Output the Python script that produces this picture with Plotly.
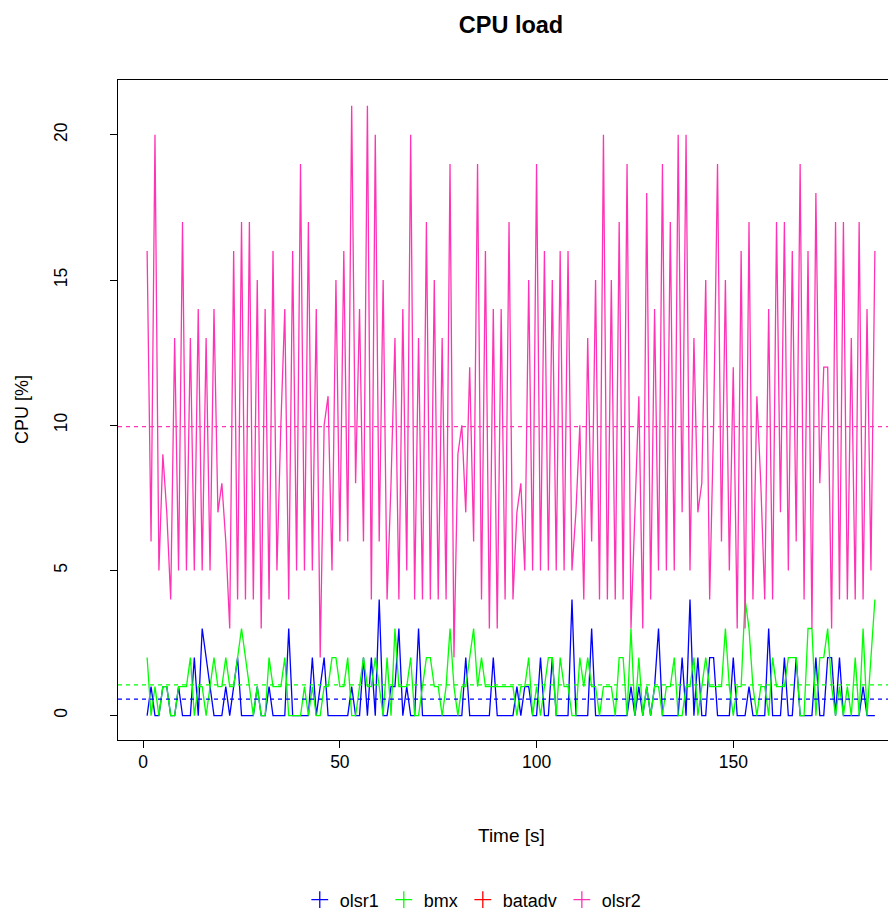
import plotly.graph_objects as go

# ---- data ----
time_s = list(range(1, 187))

olsr2 = [16, 6, 20, 5, 9, 7, 4, 13, 5, 17,
         5, 13, 5, 14, 5, 13, 5, 14, 7, 8,
         6, 3, 16, 4, 17, 4, 17, 4, 15, 3,
         14, 4, 16, 5, 10, 14, 4, 16, 5, 19,
         5, 17, 5, 14, 2, 10, 11, 5, 15, 6,
         16, 6, 21, 8, 14, 6, 21, 4, 20, 6,
         15, 4, 8, 13, 4, 14, 5, 20, 4, 13,
         4, 17, 4, 15, 4, 13, 4, 19, 2, 9,
         10, 7, 12, 6, 19, 4, 16, 3, 14, 3,
         14, 4, 17, 4, 7, 8, 5, 15, 5, 19,
         5, 16, 5, 15, 5, 16, 5, 16, 5, 7,
         10, 4, 13, 6, 15, 4, 20, 4, 15, 4,
         17, 4, 19, 3, 7, 11, 3, 18, 4, 14,
         5, 19, 5, 17, 5, 20, 7, 20, 5, 13,
         7, 8, 15, 4, 10, 19, 6, 15, 5, 12,
         3, 16, 3, 17, 4, 11, 8, 4, 14, 4,
         17, 7, 17, 5, 16, 6, 19, 4, 16, 3,
         18, 8, 12, 12, 3, 17, 4, 17, 4, 13,
         4, 17, 4, 14, 5, 16]

olsr1 = [0, 1, 0, 0, 1, 1, 0, 0, 1, 0,
         0, 0, 2, 0, 3, 2, 1, 0, 0, 0,
         1, 0, 1, 2, 0, 0, 0, 0, 1, 0,
         0, 1, 0, 0, 0, 0, 3, 0, 0, 0,
         0, 0, 2, 0, 1, 2, 0, 0, 0, 0,
         0, 0, 1, 0, 0, 2, 0, 2, 0, 4,
         0, 0, 1, 1, 3, 0, 1, 0, 0, 3,
         0, 0, 0, 0, 0, 0, 0, 0, 0, 0,
         0, 2, 0, 0, 0, 0, 0, 0, 2, 0,
         0, 0, 0, 0, 1, 0, 1, 1, 0, 0,
         2, 0, 0, 2, 0, 0, 0, 0, 4, 0,
         0, 0, 0, 3, 0, 0, 0, 0, 0, 0,
         0, 0, 0, 1, 0, 1, 0, 1, 0, 1,
         3, 0, 0, 0, 0, 0, 2, 0, 4, 0,
         2, 0, 0, 2, 2, 0, 0, 0, 0, 2,
         0, 0, 0, 1, 0, 0, 0, 0, 3, 0,
         0, 0, 2, 0, 0, 2, 0, 0, 0, 0,
         2, 0, 0, 2, 2, 0, 2, 0, 0, 0,
         0, 0, 1, 0, 0, 0]

bmx = [2, 0, 1, 0, 1, 1, 0, 0, 1, 1,
       1, 2, 0, 1, 1, 0, 1, 2, 1, 1,
       2, 1, 1, 2, 3, 2, 1, 0, 1, 0,
       0, 2, 1, 1, 1, 2, 0, 0, 0, 0,
       1, 0, 1, 0, 0, 1, 1, 2, 2, 1,
       1, 2, 0, 0, 1, 2, 1, 1, 2, 1,
       0, 2, 0, 3, 1, 1, 1, 2, 0, 0,
       1, 2, 2, 1, 1, 0, 1, 3, 1, 0,
       1, 1, 2, 3, 1, 2, 1, 1, 1, 1,
       1, 1, 1, 1, 0, 1, 1, 2, 0, 1,
       0, 1, 2, 2, 0, 2, 1, 1, 0, 0,
       2, 1, 2, 1, 1, 0, 1, 1, 1, 0,
       2, 2, 0, 3, 0, 2, 0, 1, 0, 1,
       1, 0, 1, 1, 2, 0, 0, 1, 1, 2,
       0, 1, 2, 1, 1, 1, 1, 3, 1, 0,
       1, 1, 4, 3, 1, 0, 1, 1, 0, 2,
       1, 1, 1, 2, 2, 2, 0, 0, 3, 3,
       0, 2, 2, 3, 1, 0, 1, 0, 1, 0,
       2, 0, 3, 0, 2, 4]

batadv = []  # no visible data in the reference

series_names = ["olsr1", "bmx", "batadv", "olsr2"]
series_colors = ["#0000FF", "#00FF00", "#FF0000", "#FF33B5"]
series_values = [olsr1, bmx, batadv, olsr2]

# mean levels (dashed lines)
mean_names = ["olsr1", "bmx", "olsr2"]
mean_values = [0.57, 1.06, 9.95]

x_ticks = [0, 50, 100, 150]
y_ticks = [0, 5, 10, 15, 20]

color_of = dict(zip(series_names, series_colors))

fig = go.Figure()

for name, vals, col in zip(series_names, series_values, series_colors):
    if vals:
        fig.add_trace(go.Scatter(
            x=time_s[:len(vals)], y=vals, mode="lines",
            line=dict(color=col, width=1.3), showlegend=False,
            hoverinfo="x+y", name=name))

# legend entries with "+" markers
for name, col in zip(series_names, series_colors):
    fig.add_trace(go.Scatter(
        x=[None], y=[None], mode="markers", name=name,
        marker=dict(symbol="cross-thin-open", size=12,
                    line=dict(color=col, width=1.3), color=col)))

for name, m in zip(mean_names, mean_values):
    fig.add_shape(type="line", xref="paper", x0=0, x1=1, yref="y", y0=m, y1=m,
                  line=dict(color=color_of[name], width=1.2, dash="4px,4px"))

font_family = "Liberation Sans, Arial, sans-serif"

fig.update_layout(
    width=896, height=906,
    margin=dict(l=110, r=0, t=72, b=174, autoexpand=False),
    paper_bgcolor="white", plot_bgcolor="white",
    font=dict(family=font_family, size=17.5, color="black"),
    title=dict(text="<b>CPU load</b>", xref="paper", x=0.5,
               xanchor="center", yref="container", y=1 - 17 / 906,
               yanchor="middle", font=dict(size=23.5)),
    legend=dict(orientation="h", x=0.452, xanchor="center",
                y=-0.2424, yanchor="middle", font=dict(size=18),
                itemwidth=30, tracegroupgap=0, bgcolor="rgba(0,0,0,0)"),
    annotations=[
        dict(text="Time [s]", xref="paper", yref="paper", x=0.5, y=-0.144,
             xanchor="center", yanchor="middle", showarrow=False,
             font=dict(size=19)),
        dict(text="CPU [%]", xref="paper", yref="paper", x=-0.122, y=0.5,
             xanchor="center", yanchor="middle", showarrow=False,
             textangle=-90, font=dict(size=18)),
    ],
)

fig.update_xaxes(range=[-6.4, 193.4], tickvals=x_ticks, ticks="outside",
                 ticklen=7, tickwidth=1, tickcolor="black",
                 showline=True, linecolor="black", linewidth=1, mirror=True,
                 showgrid=False, zeroline=False, ticklabelstandoff=-1,
                 automargin=False)
fig.update_yaxes(range=[-0.84, 21.89], tickvals=y_ticks, ticks="outside",
                 ticklen=7, tickwidth=1, tickcolor="black", tickangle=-90,
                 showline=True, linecolor="black", linewidth=1, mirror=False,
                 showgrid=False, zeroline=False, ticklabelstandoff=36,
                 automargin=False)

fig.write_html("out.html")
